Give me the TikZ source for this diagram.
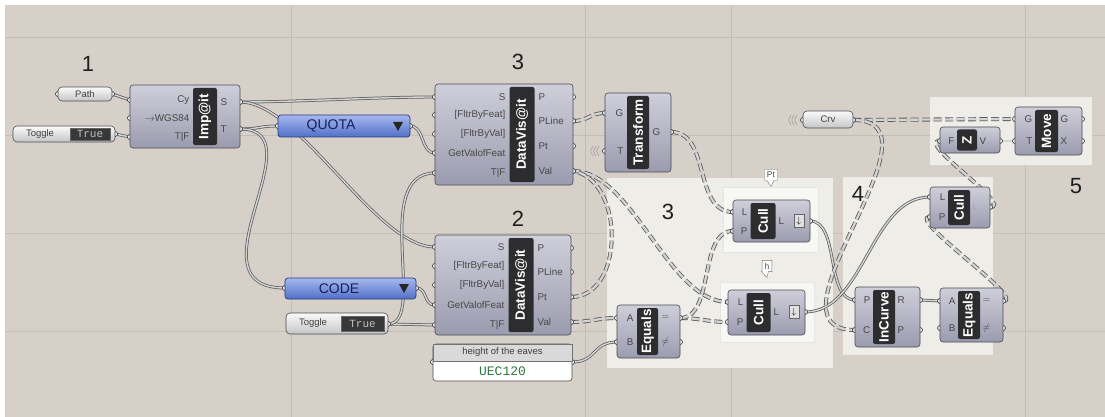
\documentclass[tikz,border=0pt]{standalone}
\usepackage{fontspec}
\setmainfont{Liberation Sans}
\setmonofont{Liberation Mono}
\usetikzlibrary{shapes.callouts}
\definecolor{canvas}{HTML}{D6D0C8}
\definecolor{gridline}{HTML}{C4BDB5}
\definecolor{grpfill}{HTML}{EEEDE8}
\definecolor{subgrp}{HTML}{F7F7F4}
\definecolor{compedge}{HTML}{4A4A56}
\definecolor{comptop}{HTML}{CFCFDA}
\definecolor{compbot}{HTML}{9B9BAF}
\definecolor{barfill}{HTML}{2D2D30}
\definecolor{wiredark}{HTML}{5E5E5E}
\definecolor{wirelight}{HTML}{D4D4D4}
\definecolor{listtop}{HTML}{A6B8EE}
\definecolor{listbot}{HTML}{5270C8}
\definecolor{listedge}{HTML}{26397A}
\definecolor{listtext}{HTML}{14205A}
\definecolor{paneltext}{HTML}{2F7A3E}

\pgfdeclarelayer{groups}
\pgfdeclarelayer{wires}
\pgfdeclarelayer{grips}
\pgfsetlayers{groups,wires,grips,main}

% component body, bar and grips
\newcommand{\ghbox}[7]{\node[#6, minimum width={#4-#2}, minimum height={#5-#3}] (#1) at ({(#2+#4)/2},{(#3+#5)/2}) {#7};}
\newcommand{\ghbar}[6]{\node[cbar, rotate=90, minimum width={#4-#3}, minimum height=#5] (#1) at (#2,{(#3+#4)/2}) {#6};}
\newcommand{\ghgrip}[3]{\begin{pgfonlayer}{grips}\node[grip] (#1) at (#2,#3) {};\end{pgfonlayer}}
\newcommand{\ghin}[5]{\ghgrip{#1}{#2}{#3}\node[port, anchor=east] (#1-lab) at (#4,#3) {#5};}
\newcommand{\ghout}[5]{\ghgrip{#1}{#2}{#3}\node[port, anchor=west] (#1-lab) at (#4,#3) {#5};}

\begin{document}
\begin{tikzpicture}[
  x=1pt, y=-1pt,
  comp/.style={draw=compedge, line width=0.6pt, rounded corners=3pt,
    top color=comptop, bottom color=compbot, inner sep=0pt},
  cbar/.style={fill=barfill, rounded corners=2pt, text=white, inner sep=0pt,
    font=\bfseries\fontsize{13.5}{14}\selectfont},
  port/.style={font=\fontsize{9.8}{10}\selectfont, text=black!72, inner sep=0.5pt},
  grip/.style={circle, draw=black!85, fill=white, line width=0.6pt,
    minimum size=5pt, inner sep=0pt},
  param/.style={draw=compedge, line width=0.6pt, rounded corners=4pt,
    top color=white!96!gray, bottom color=gray!45, inner sep=0pt,
    font=\fontsize{9.5}{10}\selectfont, text=black!75},
  vallist/.style={draw=listedge, line width=0.7pt, rounded corners=3pt,
    top color=listtop, bottom color=listbot, inner sep=0pt},
  listtxt/.style={font=\fontsize{14}{15}\selectfont, text=listtext},
  togval/.style={fill=black!78, draw=black!60, text=black!25, inner sep=0pt,
    font=\ttfamily\fontsize{11}{12}\selectfont},
  paramtxt/.style={font=\fontsize{9.5}{10}\selectfont, text=black!75},
  panelbox/.style={draw=black!70, line width=0.6pt, rounded corners=3pt,
    fill=white, inner sep=0pt},
  panelhead/.style={fill=black!15, draw=black!55, line width=0.4pt,
    font=\fontsize{9.5}{10}\selectfont, text=black!75, inner sep=0pt},
  paneltxt/.style={font=\ttfamily\fontsize{13}{14}\selectfont, text=paneltext},
  flat/.style={draw=black!60, fill=black!12, minimum width=10pt,
    minimum height=13pt, inner sep=0pt, font=\fontsize{9}{9}\selectfont},
  tagbox/.style={rectangle callout, draw=black!55, fill=white, inner sep=2.5pt,
    callout relative pointer={(0pt,-6pt)}, font=\fontsize{8.5}{9}\selectfont,
    text=black!70},
  bignum/.style={font=\fontsize{22}{24}\selectfont, text=black!88},
  grp/.style={fill=grpfill},
  subgrp/.style={fill=subgrp, draw=white!80!gray, line width=0.4pt},
  gridln/.style={draw=gridline, line width=0.9pt},
  wless/.style={draw=black!40, line width=0.5pt},
  wire/.style={draw=wiredark, double=wirelight, double distance=1.4pt,
    line width=0.75pt},
  treewire/.style={wire, line width=0.85pt, double distance=2.3pt,
    dash pattern=on 8pt off 3.5pt}
]
\useasboundingbox (0,0) rectangle (1105,417);

% canvas, grid and groups
\begin{pgfonlayer}{groups}
\fill[white] (0,0) rectangle (1105,417);
\fill[canvas] (5,5) rectangle (1105,417);
\foreach \gy in {37,135,233,331}
  \draw[gridln] (5,\gy) -- (1105,\gy);
\foreach \gx in {291,585,731,1025}
  \draw[gridln] (\gx,5) -- (\gx,417);
\ghbox{grp3}{607}{178}{833}{368}{grp}{}
\ghbox{grp3a}{723}{187}{818}{252}{subgrp}{}
\ghbox{grp3b}{720}{282}{814}{342}{subgrp}{}
\ghbox{grp4}{843}{177}{993}{355}{grp}{}
\ghbox{grp5}{930}{97}{1092}{165}{grp}{}
\end{pgfonlayer}

% ---- 1: import
\node[bignum] (num-1) at (88,64) {1};
\ghbox{path}{58}{87}{112}{101}{param}{Path}
\ghgrip{path-in}{58}{94}
\ghgrip{path-out}{112}{94}
\ghbox{tog1}{13}{126}{115}{142}{param}{}
\node[paramtxt] (tog1-lab) at (40,134) {Toggle};
\node[togval, minimum width=40, minimum height=12] (tog1-val) at (90,134) {True};
\ghgrip{tog1-out}{115}{134}

\ghbox{imp}{130}{85}{240}{148}{comp}{}
\ghbar{imp-bar}{205}{88}{145}{24}{Imp@it}
\ghin{imp-cy}{130}{100}{190}{Cy}
\ghin{imp-wgs}{130}{118}{190}{$\rightarrow$WGS84}
\ghin{imp-tf}{130}{137}{190}{T|F}
\ghout{imp-s}{240}{102}{220}{S}
\ghout{imp-t}{240}{129}{220}{T}

% value lists and second toggle
\ghbox{quota}{278}{115}{410}{137}{vallist}{}
\node[listtxt] (quota-txt) at (331,126) {QUOTA};
\fill[black!85] (393,122) -- (403,122) -- (398,131) -- cycle;
\ghgrip{quota-in}{278}{126}
\ghgrip{quota-out}{410}{126}

\ghbox{code}{285}{278}{416}{299}{vallist}{}
\node[listtxt] (code-txt) at (339,288.5) {CODE};
\fill[black!85] (399,284) -- (409,284) -- (404,293) -- cycle;
\ghgrip{code-in}{285}{288}
\ghgrip{code-out}{416}{288}

\ghbox{tog2}{286}{313}{388}{334}{param}{}
\node[paramtxt] (tog2-lab) at (313,323.5) {Toggle};
\node[togval, minimum width=43, minimum height=15] (tog2-val) at (362.5,323.5) {True};
\ghgrip{tog2-out}{388}{324}

% ---- 3: DataVis@it (QUOTA)
\node[bignum] (num-3a) at (518,62) {3};
\ghbox{dv1}{435}{84}{573}{185}{comp}{}
\ghbar{dv1-bar}{522}{87}{182}{25}{DataVis@it}
\ghin{dv1-s}{435}{97}{506}{S}
\ghin{dv1-ff}{435}{115}{506}{[FltrByFeat]}
\ghin{dv1-fv}{435}{134}{506}{[FltrByVal]}
\ghin{dv1-get}{435}{153}{506}{GetValofFeat}
\ghin{dv1-tf}{435}{173}{506}{T|F}
\ghout{dv1-p}{573}{97}{538}{P}
\ghout{dv1-pline}{573}{121}{538}{PLine}
\ghout{dv1-pt}{573}{146}{538}{Pt}
\ghout{dv1-val}{573}{171}{538}{Val}

% ---- 2: DataVis@it (CODE)
\node[bignum] (num-2) at (518,219) {2};
\ghbox{dv2}{435}{235}{571}{335}{comp}{}
\ghbar{dv2-bar}{521}{238}{332}{25}{DataVis@it}
\ghin{dv2-s}{435}{247}{505}{S}
\ghin{dv2-ff}{435}{266}{505}{[FltrByFeat]}
\ghin{dv2-fv}{435}{285}{505}{[FltrByVal]}
\ghin{dv2-get}{435}{305}{505}{GetValofFeat}
\ghin{dv2-tf}{435}{325}{505}{T|F}
\ghout{dv2-p}{571}{248}{537}{P}
\ghout{dv2-pline}{571}{272}{537}{PLine}
\ghout{dv2-pt}{571}{297}{537}{Pt}
\ghout{dv2-val}{571}{322}{537}{Val}

\ghbox{panel}{433}{344}{572}{381}{panelbox}{}
\node[panelhead, minimum width=139, minimum height=17] (panel-head) at (502.5,352.5) {height of the eaves};
\node[paneltxt] (panel-val) at (502.5,371.5) {UEC120};
\ghgrip{panel-in}{433}{362}
\ghgrip{panel-out}{572}{362}

% transform
\ghbox{tr}{605}{93}{671}{172}{comp}{}
\ghbar{tr-bar}{638}{96}{169}{22}{Transform}
\ghin{tr-g}{605}{113}{624}{G}
\ghin{tr-t}{605}{151}{624}{T}
\ghout{tr-out}{671}{132}{652}{G}
\foreach \ax in {599,596,593}
  \draw[wless] (\ax,146) .. controls (\ax-3,151) .. (\ax,156);

% ---- 3: cull by height
\node[bignum] (num-3b) at (668,212) {3};
\node[tagbox] (tag-pt) at (771,175) {Pt};
\node[tagbox] (tag-h) at (767,266) {h};
\ghbox{cull1}{733}{200}{810}{242}{comp}{}
\ghbar{cull1-bar}{763}{203}{239}{25}{Cull}
\ghin{cull1-l}{733}{212}{748}{L}
\ghin{cull1-p}{733}{231}{748}{P}
\ghout{cull1-out}{810}{221}{778}{L}
\node[flat] (cull1-ico) at (799,221) {$\downarrow$};

\ghbox{cull2}{728}{290}{805}{335}{comp}{}
\ghbar{cull2-bar}{758.5}{293}{332}{24}{Cull}
\ghin{cull2-l}{728}{302}{744}{L}
\ghin{cull2-p}{728}{322}{744}{P}
\ghout{cull2-out}{805}{312}{773}{L}
\node[flat] (cull2-ico) at (794,312) {$\downarrow$};

\ghbox{eq3}{617}{305}{680}{358}{comp}{}
\ghbar{eq3-bar}{647.5}{308}{355}{21}{Equals}
\ghin{eq3-a}{617}{318}{634}{A}
\ghin{eq3-b}{617}{342}{634}{B}
\ghout{eq3-eq}{680}{318}{661}{$=$}
\ghout{eq3-ne}{680}{342}{661}{$\neq$}

% ---- 4: curve inclusion
\node[bignum] (num-4) at (858,194) {4};
\ghbox{cull3}{930}{187}{990}{228}{comp}{}
\ghbar{cull3-bar}{959}{190}{225}{22}{Cull}
\ghin{cull3-l}{930}{197}{946}{L}
\ghin{cull3-p}{930}{217}{946}{P}
\ghout{cull3-out}{990}{207}{972}{\color{black!35}L}

\ghbox{inc}{855}{287}{920}{347}{comp}{}
\ghbar{inc-bar}{884}{290}{344}{22}{InCurve}
\ghin{inc-p}{855}{300}{871}{P}
\ghin{inc-c}{855}{330}{871}{C}
\ghout{inc-r}{920}{300}{897}{R}
\ghout{inc-pout}{920}{330}{897}{P}

\ghbox{eq4}{940}{288}{1003}{342}{comp}{}
\ghbar{eq4-bar}{969}{291}{339}{22}{Equals}
\ghin{eq4-a}{940}{301}{956}{A}
\ghin{eq4-b}{940}{328}{956}{B}
\ghout{eq4-eq}{1003}{301}{982}{$=$}
\ghout{eq4-ne}{1003}{328}{982}{$\neq$}

% ---- 5: move
\node[bignum] (num-5) at (1076,186) {5};
\ghbox{crv}{803}{111}{853}{128}{param}{Crv}
\ghgrip{crv-in}{803}{120}
\ghgrip{crv-out}{853}{120}
\foreach \ax in {797,794,791}
  \draw[wless] (\ax,115) .. controls (\ax-3,120) .. (\ax,125);

\ghbox{move}{1015}{107}{1082}{155}{comp}{}
\ghbar{move-bar}{1046.5}{110}{152}{23}{Move}
\ghin{move-g}{1015}{119}{1033}{G}
\ghin{move-t}{1015}{141}{1033}{T}
\ghout{move-gout}{1082}{119}{1060}{G}
\ghout{move-x}{1082}{141}{1060}{X}

\ghbox{unitz}{940}{127}{1000}{153}{comp}{}
\ghbar{unitz-bar}{967}{129.5}{150.5}{20}{Z}
\ghin{unitz-f}{940}{141}{955}{F}
\ghout{unitz-v}{1000}{141}{979}{V}

% wires
\begin{pgfonlayer}{wires}
\draw[wire] (path-out.center) -- (imp-cy.center);
\draw[wire] (tog1-out.center) -- (imp-tf.center);
\draw[wire] (imp-s.center) .. controls +(60,0) and +(-60,0) .. (dv1-s.center);
\draw[wire] (imp-s.center) .. controls +(60,0) and +(-60,0) .. (dv2-s.center);
\draw[wire] (imp-t.center) .. controls +(20,0) and +(-20,0) .. (quota-in.center);
\draw[wire] (imp-t.center) .. controls +(80,0) and +(-100,0) .. (code-in.center);
\draw[wire] (quota-out.center) .. controls +(15,0) and +(-15,0) .. (dv1-get.center);
\draw[wire] (code-out.center) .. controls +(12,0) and +(-12,0) .. (dv2-get.center);
\draw[wire] (tog2-out.center) -- (dv2-tf.center);
\draw[wire] (tog2-out.center) .. controls +(40,0) and +(-65,0) .. (dv1-tf.center);
\draw[wire] (panel-out.center) .. controls +(25,0) and +(-25,0) .. (eq3-b.center);
\draw[wire] (cull1-out.center) .. controls +(30,0) and +(-30,0) .. (inc-p.center);
\draw[wire] (cull2-out.center) .. controls +(60,0) and +(-60,0) .. (cull3-l.center);
\draw[wire] (inc-r.center) -- (eq4-a.center);
\draw[wire] (unitz-v.center) -- (move-t.center);

\draw[treewire] (dv1-pline.center) .. controls +(15,0) and +(-15,0) .. (tr-g.center);
\draw[treewire] (dv1-val.center) .. controls +(60,0) and +(-60,0) .. (cull2-l.center);
\draw[treewire] (dv2-pt.center) .. controls +(54,0) and +(52,9) .. (dv1-val.center);
\draw[treewire] (dv2-val.center) .. controls +(20,0) and +(-20,0) .. (eq3-a.center);
\draw[treewire] (tr-out.center) .. controls +(40,0) and +(-40,0) .. (cull1-l.center);
\draw[treewire] (eq3-eq.center) .. controls +(20,0) and +(-20,0) .. (cull2-p.center);
\draw[treewire] (eq3-eq.center) .. controls +(35,0) and +(-35,0) .. (cull1-p.center);
\draw[treewire] (crv-out.center) -- (move-g.center);
\draw[treewire] (crv-out.center) .. controls +(100,0) and +(-100,0) .. (inc-c.center);
\draw[treewire] (cull3-out.center) .. controls +(25,0) and +(-25,0) .. (unitz-f.center);
\draw[treewire] (eq4-eq.center) .. controls +(25,0) and +(-25,0) .. (cull3-p.center);
\end{pgfonlayer}
\end{tikzpicture}
\end{document}
